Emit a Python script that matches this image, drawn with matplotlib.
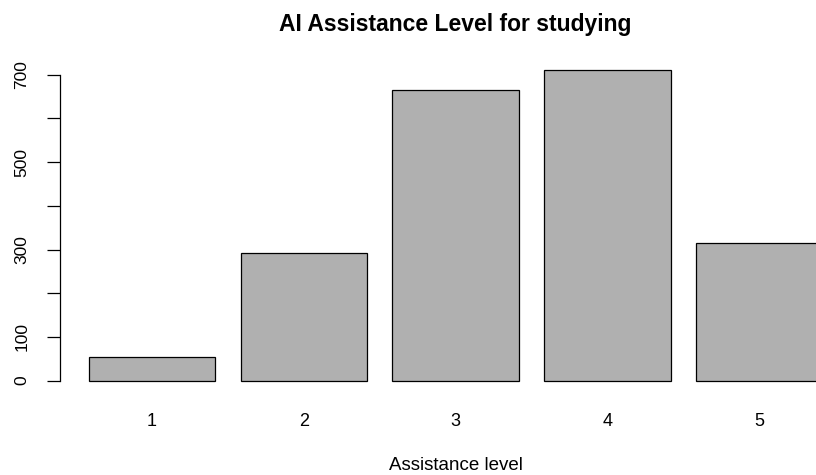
import matplotlib
matplotlib.use("Agg")
import matplotlib.pyplot as plt
import numpy as np

categories = ["1", "2", "3", "4", "5"]
counts = [54, 292, 666, 710, 314]
yticks = [0, 100, 200, 300, 400, 500, 600, 700]
ytick_labels = ["0", "100", "", "300", "", "500", "", "700"]

plt.rcParams['font.family'] = ['Liberation Sans', 'DejaVu Sans']

W, H = 816, 475
fig = plt.figure(figsize=(W / 100, H / 100), dpi=100)
left, right, top, bottom = 59.5, 852, 58, 393
ax = fig.add_axes([left / W, 1 - bottom / H, (right - left) / W, (bottom - top) / H])

width = 1.0
space = 0.2
centers = [space + width / 2 + i * (width + space) for i in range(len(counts))]
ax.bar(centers, counts, width=width, color="#B0B0B0", edgecolor="black", linewidth=0.9)

ymax = max(counts)
ax.set_ylim(-0.04 * ymax, ymax * 1.04)
xl = space
xr = centers[-1] + width / 2
pad = 0.04 * (xr - xl)
ax.set_xlim(xl - pad, xr + pad)

px = 0.72  # points per pixel at dpi 100
for s in ["top", "right", "bottom"]:
    ax.spines[s].set_visible(False)
ax.spines["left"].set_bounds(0, 700)
ax.spines["left"].set_linewidth(0.9)
ax.set_yticks(yticks)
ax.set_yticklabels(ytick_labels, rotation=90, va="center", fontsize=12.5)
ax.tick_params(axis="y", length=13 * px, width=0.9, pad=17 * px)
ax.set_xticks(centers)
ax.set_xticklabels(categories, fontsize=13)
ax.tick_params(axis="x", length=0, pad=20 * px)

fig.text((left + right) / 2 / W, 1 - 470.5 / H, "Assistance level",
         ha="center", va="baseline", fontsize=13.5)
fig.text((left + right) / 2 / W, 1 - 30.5 / H, "AI Assistance Level for studying",
         ha="center", va="baseline", fontsize=16.5, fontweight="bold")

fig.savefig("out.png", dpi=100)
